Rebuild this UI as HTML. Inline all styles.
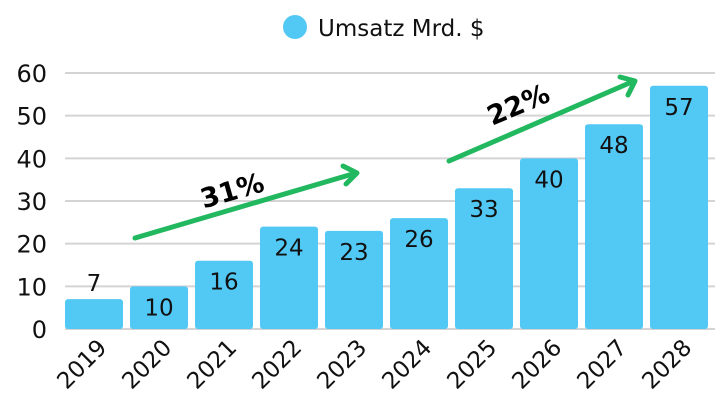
<!DOCTYPE html>
<html><head><meta charset="utf-8"><style>
body{margin:0;background:#fff;}
svg{display:block;font-family:"DejaVu Sans","Liberation Sans",sans-serif;}
</style></head><body>
<svg id="c" width="720" height="419" viewBox="0 0 720 419">
<g>
<circle cx="295" cy="27" r="12" fill="#52c8f5"/>
<text x="318" y="36" font-size="23" fill="#111">Umsatz Mrd. $</text>
</g>
<g id="grid"></g><g id="bars"></g><g id="xl"></g>
<g>
<line x1="135" y1="238" x2="356" y2="173" stroke="#22b85f" stroke-width="5" stroke-linecap="round"/>
<polyline points="343,166 357,173 346,184" fill="none" stroke="#22b85f" stroke-width="5" stroke-linecap="round" stroke-linejoin="round"/>
<text x="232" y="200" font-size="27" font-weight="bold" fill="#000" text-anchor="middle" transform="rotate(-16 232 190)">31%</text>
</g>
<g>
<line x1="449" y1="161" x2="634" y2="81" stroke="#22b85f" stroke-width="5" stroke-linecap="round"/>
<polyline points="620,77 635,81 628,95" fill="none" stroke="#22b85f" stroke-width="5" stroke-linecap="round" stroke-linejoin="round"/>
<text x="518" y="114" font-size="27" font-weight="bold" fill="#000" text-anchor="middle" transform="rotate(-23 518 104)">22%</text>
</g>
</svg>
<script>
const categories=["2019","2020","2021","2022","2023","2024","2025","2026","2027","2028"];
const values=[7,10,16,24,23,26,33,40,48,57];
const yTicks=[0,10,20,30,40,50,60];
const NS="http://www.w3.org/2000/svg";
const x0=65,step=65,bw=58,yb=329,yt=73,ymax=60;
const y=v=>yb-(v/ymax)*(yb-yt);
const xc=i=>x0+i*step+bw/2;
function mk(t,a,p){const e=document.createElementNS(NS,t);for(const k in a)e.setAttribute(k,a[k]);p.appendChild(e);return e;}
const g=document.getElementById('grid'),b=document.getElementById('bars'),xl=document.getElementById('xl');
yTicks.forEach(t=>{
 const l=mk('line',{x1:x0,x2:715,y1:y(t),y2:y(t),stroke:'#d4d4d4','stroke-width':2},g);
 
 
 const tx=mk('text',{x:47,y:y(t)+9,'font-size':24,'text-anchor':'end',fill:'#111'},g);
 tx.textContent=t;
 
 
});
categories.forEach((c,i)=>{
 const v=values[i];
 const r=mk('rect',{x:x0+i*step,y:y(v),width:bw,height:yb-y(v),rx:3,fill:'#52c8f5'},b);
 
 
 const inside=(yb-y(v))>30;
 const ly=inside?y(v)+29:y(v)-8;
 const t=mk('text',{x:xc(i),y:ly,'font-size':23,'text-anchor':'middle',fill:'#111'},b);
 t.textContent=v;
 
 
 const px=xc(i)+14,py=349;
 const xt=mk('text',{x:px,y:py,'font-size':23,'text-anchor':'end',fill:'#111',transform:`rotate(-45 ${px} ${py})`},xl);
 xt.textContent=c;
 
 
});
</script>
</body></html>
